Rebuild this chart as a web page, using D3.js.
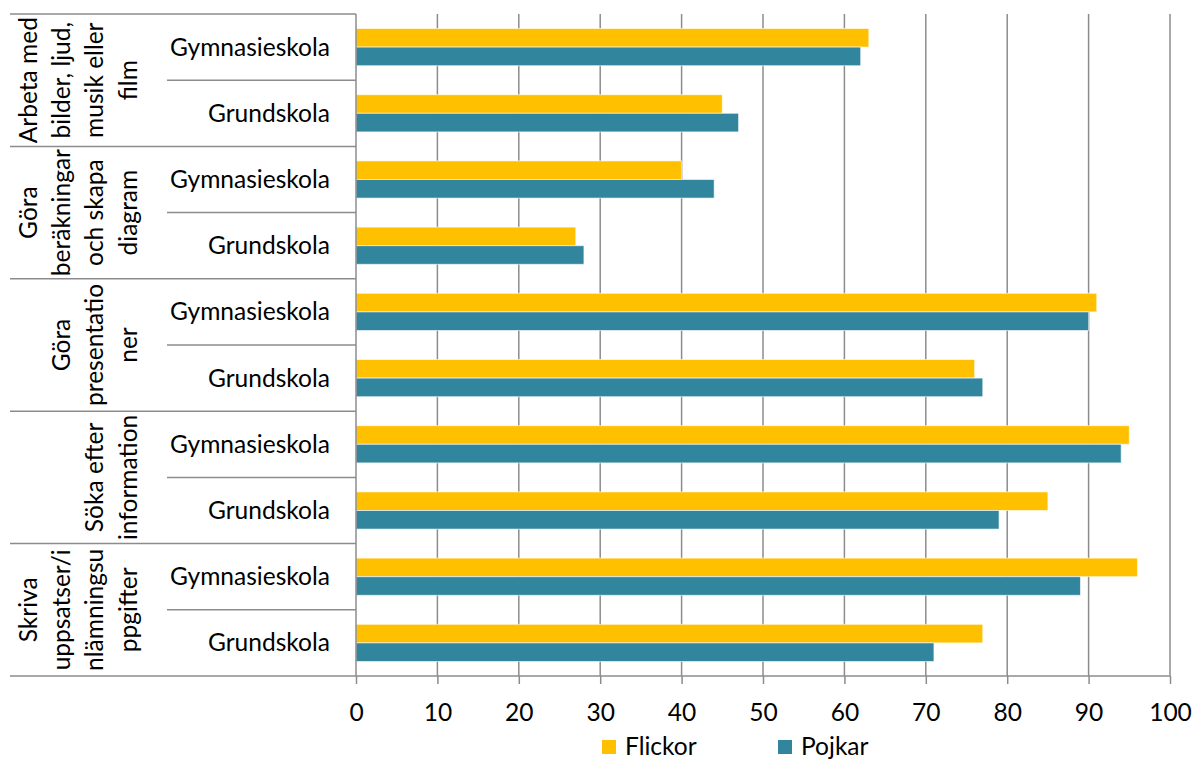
<!DOCTYPE html>
<html>
<head>
<meta charset="utf-8">
<script src="https://cdn.jsdelivr.net/npm/d3@7"></script>
<style>
  body { margin: 0; background: #fff; }
  svg { display: block; }
</style>
</head>
<body>
<svg id="chart" width="1193" height="760"></svg>
<script>
// ---- data ----
const groupLabels = [
  ["Arbeta med", "bilder, ljud,", "musik eller", "film"],
  ["Göra", "beräkningar", "och skapa", "diagram"],
  ["Göra", "presentatio", "ner"],
  ["Söka efter", "information"],
  ["Skriva", "uppsatser/i", "nlämningsu", "ppgifter"]
];
const levels = ["Gymnasieskola", "Grundskola"];
const seriesNames = ["Flickor", "Pojkar"];
const flickor = [63, 45, 40, 27, 91, 76, 95, 85, 96, 77];
const pojkar  = [62, 47, 44, 28, 90, 77, 94, 79, 89, 71];
const xTicks = [0, 10, 20, 30, 40, 50, 60, 70, 80, 90, 100];
const colors = ["#FFC000", "#31859C"];

// ---- layout ----
const svg = d3.select("#chart");
const FONT = "Lato, 'Open Sans', sans-serif";

// fit font size so that Calibri-like widths match
const probe = svg.append("text").attr("font-family", FONT).attr("font-size", 100).text("Gymnasieskola");
const pw = probe.node().getComputedTextLength();
probe.remove();
const fs = 100 * 160 / pw;

const plotLeft = 356, plotRight = 1170, plotTop = 14, plotBottom = 676;
const x = d3.scaleLinear().domain([0, 100]).range([plotLeft, plotRight]);

const rows = [];
groupLabels.forEach((g, gi) => levels.forEach((lv, li) => rows.push({ gi, lv, id: gi * 2 + li })));
const y = d3.scaleBand().domain(rows.map(r => r.id)).range([plotTop, plotBottom]).padding(0);
const ySeries = d3.scaleBand().domain(seriesNames).range([0, y.bandwidth()]).paddingInner(0).paddingOuter(0.78);
const yGroup = d3.scaleBand().domain(groupLabels.map((d, i) => i)).range([plotTop, plotBottom]).padding(0);

const lineColor = "#8c8c8c";

// gridlines
svg.append("g").selectAll("line").data(xTicks.filter(t => t > 0)).join("line")
  .attr("x1", d => x(d)).attr("x2", d => x(d))
  .attr("y1", plotTop).attr("y2", plotBottom)
  .attr("stroke", lineColor).attr("stroke-width", 1.5);

// bars
const data = rows.map((r, i) => ({ ...r, values: [flickor[i], pojkar[i]] }));
const rowG = svg.append("g").selectAll("g").data(data).join("g")
  .attr("transform", d => `translate(0,${y(d.id)})`);
rowG.selectAll("rect").data(d => d.values.map((v, k) => ({ v, k }))).join("rect")
  .attr("x", x(0))
  .attr("y", d => ySeries(seriesNames[d.k]))
  .attr("width", d => x(d.v) - x(0))
  .attr("height", ySeries.bandwidth())
  .attr("fill", d => colors[d.k])
  .attr("stroke", "rgba(255,255,255,0.6)").attr("stroke-width", 1);

// x axis
const xAxis = d3.axisBottom(x).tickValues(xTicks).tickSize(8).tickPadding(20).tickFormat(d3.format("d"));
const ax = svg.append("g").attr("transform", `translate(0,${plotBottom})`).call(xAxis);
ax.select(".domain").attr("stroke", lineColor).attr("stroke-width", 1.5).attr("d", `M${plotLeft},0H${plotRight}`);
ax.selectAll(".tick line").attr("stroke", lineColor).attr("stroke-width", 1.5);
ax.selectAll(".tick text").attr("font-family", FONT).attr("font-size", fs).attr("fill", "#000");

// category axis lines
const cat = svg.append("g");
cat.append("line").attr("x1", plotLeft).attr("x2", plotLeft).attr("y1", plotTop).attr("y2", plotBottom)
  .attr("stroke", lineColor).attr("stroke-width", 1.5);
// outer separators
const outerB = groupLabels.map((d, i) => yGroup(i)).concat([plotBottom]);
cat.selectAll(".outer").data(outerB).join("line").attr("class", "outer")
  .attr("x1", 10).attr("x2", plotLeft).attr("y1", d => d).attr("y2", d => d)
  .attr("stroke", lineColor).attr("stroke-width", 1.5);
// inner separators
cat.selectAll(".inner").data(groupLabels.map((d, i) => yGroup(i) + yGroup.bandwidth() / 2)).join("line").attr("class", "inner")
  .attr("x1", 167).attr("x2", plotLeft).attr("y1", d => d).attr("y2", d => d)
  .attr("stroke", lineColor).attr("stroke-width", 1.5);

// inner labels
svg.append("g").selectAll("text").data(rows).join("text")
  .attr("x", 330).attr("y", d => y(d.id) + y.bandwidth() / 2).attr("dy", "0.35em")
  .attr("text-anchor", "end").attr("font-family", FONT).attr("font-size", fs).attr("fill", "#000")
  .text(d => d.lv);

// outer labels (rotated)
const lineStep = 33.3, lastLineX = 128;
const og = svg.append("g").selectAll("g").data(groupLabels).join("g")
  .attr("transform", (d, i) => `translate(0,${yGroup(i) + yGroup.bandwidth() / 2}) rotate(-90)`);
og.selectAll("text").data(d => d.map((t, i) => ({ t, pos: lastLineX - (d.length - 1 - i) * lineStep }))).join("text")
  .attr("x", 0).attr("y", d => d.pos).attr("dy", "0.35em")
  .attr("text-anchor", "middle").attr("font-family", FONT).attr("font-size", fs).attr("fill", "#000")
  .text(d => d.t);

// legend
const legendItems = [{ name: "Flickor", sx: 602, tx: 625 }, { name: "Pojkar", sx: 778, tx: 801 }];
const lg = svg.append("g").selectAll("g").data(legendItems).join("g");
lg.append("rect").attr("x", d => d.sx).attr("y", 740).attr("width", 14).attr("height", 14)
  .attr("fill", (d, i) => colors[i]);
lg.append("text").attr("x", d => d.tx).attr("y", 746).attr("dy", "0.35em")
  .attr("font-family", FONT).attr("font-size", fs).attr("fill", "#000").text(d => d.name);
</script>
</body>
</html>
